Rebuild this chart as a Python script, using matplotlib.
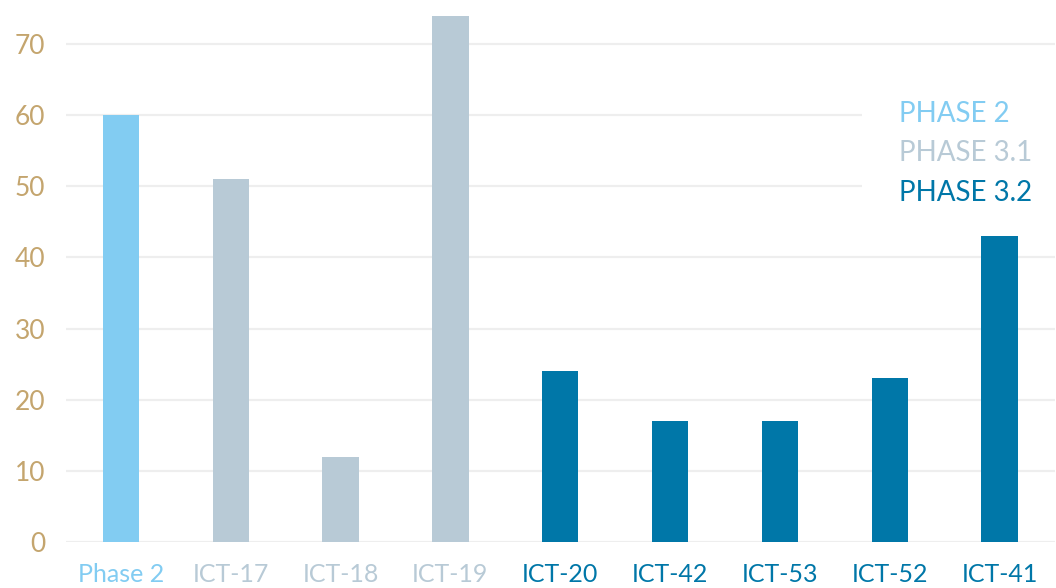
import numpy as np
import matplotlib.pyplot as plt
from matplotlib.patches import Patch, Rectangle

plt.rcParams['font.family'] = ['Lato', 'DejaVu Sans']

labels = ['Phase 2', 'ICT-17', 'ICT-18', 'ICT-19', 'ICT-20', 'ICT-42', 'ICT-53', 'ICT-52', 'ICT-41']
values = [60, 51, 12, 74, 24, 17, 17, 23, 43]
phases = ['PHASE 2', 'PHASE 3.1', 'PHASE 3.1', 'PHASE 3.1', 'PHASE 3.2', 'PHASE 3.2', 'PHASE 3.2', 'PHASE 3.2', 'PHASE 3.2']
phase_names = ['PHASE 2', 'PHASE 3.1', 'PHASE 3.2']
phase_colors = {'PHASE 2': '#82ccf2', 'PHASE 3.1': '#b8cad6', 'PHASE 3.2': '#0077a8'}

W, H = 1056, 588
fig = plt.figure(figsize=(W / 100, H / 100), dpi=100)
# axes: x band from 66px to 1054px, y=0 at 542px, top of axes at figure top
ax_w, ax_h = 1054.5 - 66, 542
ax = fig.add_axes([66 / W, (H - 542) / H, ax_w / W, ax_h / H])

x = np.arange(len(labels))
colors = [phase_colors[p] for p in phases]
ax.bar(x, values, width=0.33, color=colors, zorder=2)

ax.set_xlim(-0.5, len(labels) - 0.5)
ax.set_ylim(0, 542 / (498 / 70))
ax.set_yticks(range(0, 80, 10))
ax.yaxis.grid(True, color='#eeeeee', linewidth=1.6, zorder=0)
ax.set_axisbelow(True)
for s in ax.spines.values():
    s.set_visible(False)

ax.set_xticks(x)
ax.set_xticklabels(labels, fontsize=18)
for t, c in zip(ax.get_xticklabels(), colors):
    t.set_color(c)
ax.tick_params(axis='x', length=0, pad=15)
ax.tick_params(axis='y', length=0, pad=15, labelsize=19, labelcolor='#c4a56e')

# white box behind the legend, hides the grid lines there (bars stay on top)
ax.add_patch(Rectangle(((862 - 66) / ax_w, (542 - 212) / ax_h), 1, (212 - 88) / ax_h,
                       transform=ax.transAxes, facecolor='white', edgecolor='none',
                       zorder=1, clip_on=True))

handles = [Patch(color='none', label=p) for p in phase_names]
leg = ax.legend(handles=handles, loc='upper left', bbox_to_anchor=((899 - 66) / ax_w, 1 - 101 / ax_h),
                fontsize=20, handlelength=0, handletextpad=0, labelspacing=0.48,
                borderpad=0, borderaxespad=0, frameon=False,
                labelcolor=[phase_colors[p] for p in phase_names])

fig.savefig('out.png', dpi=100)
